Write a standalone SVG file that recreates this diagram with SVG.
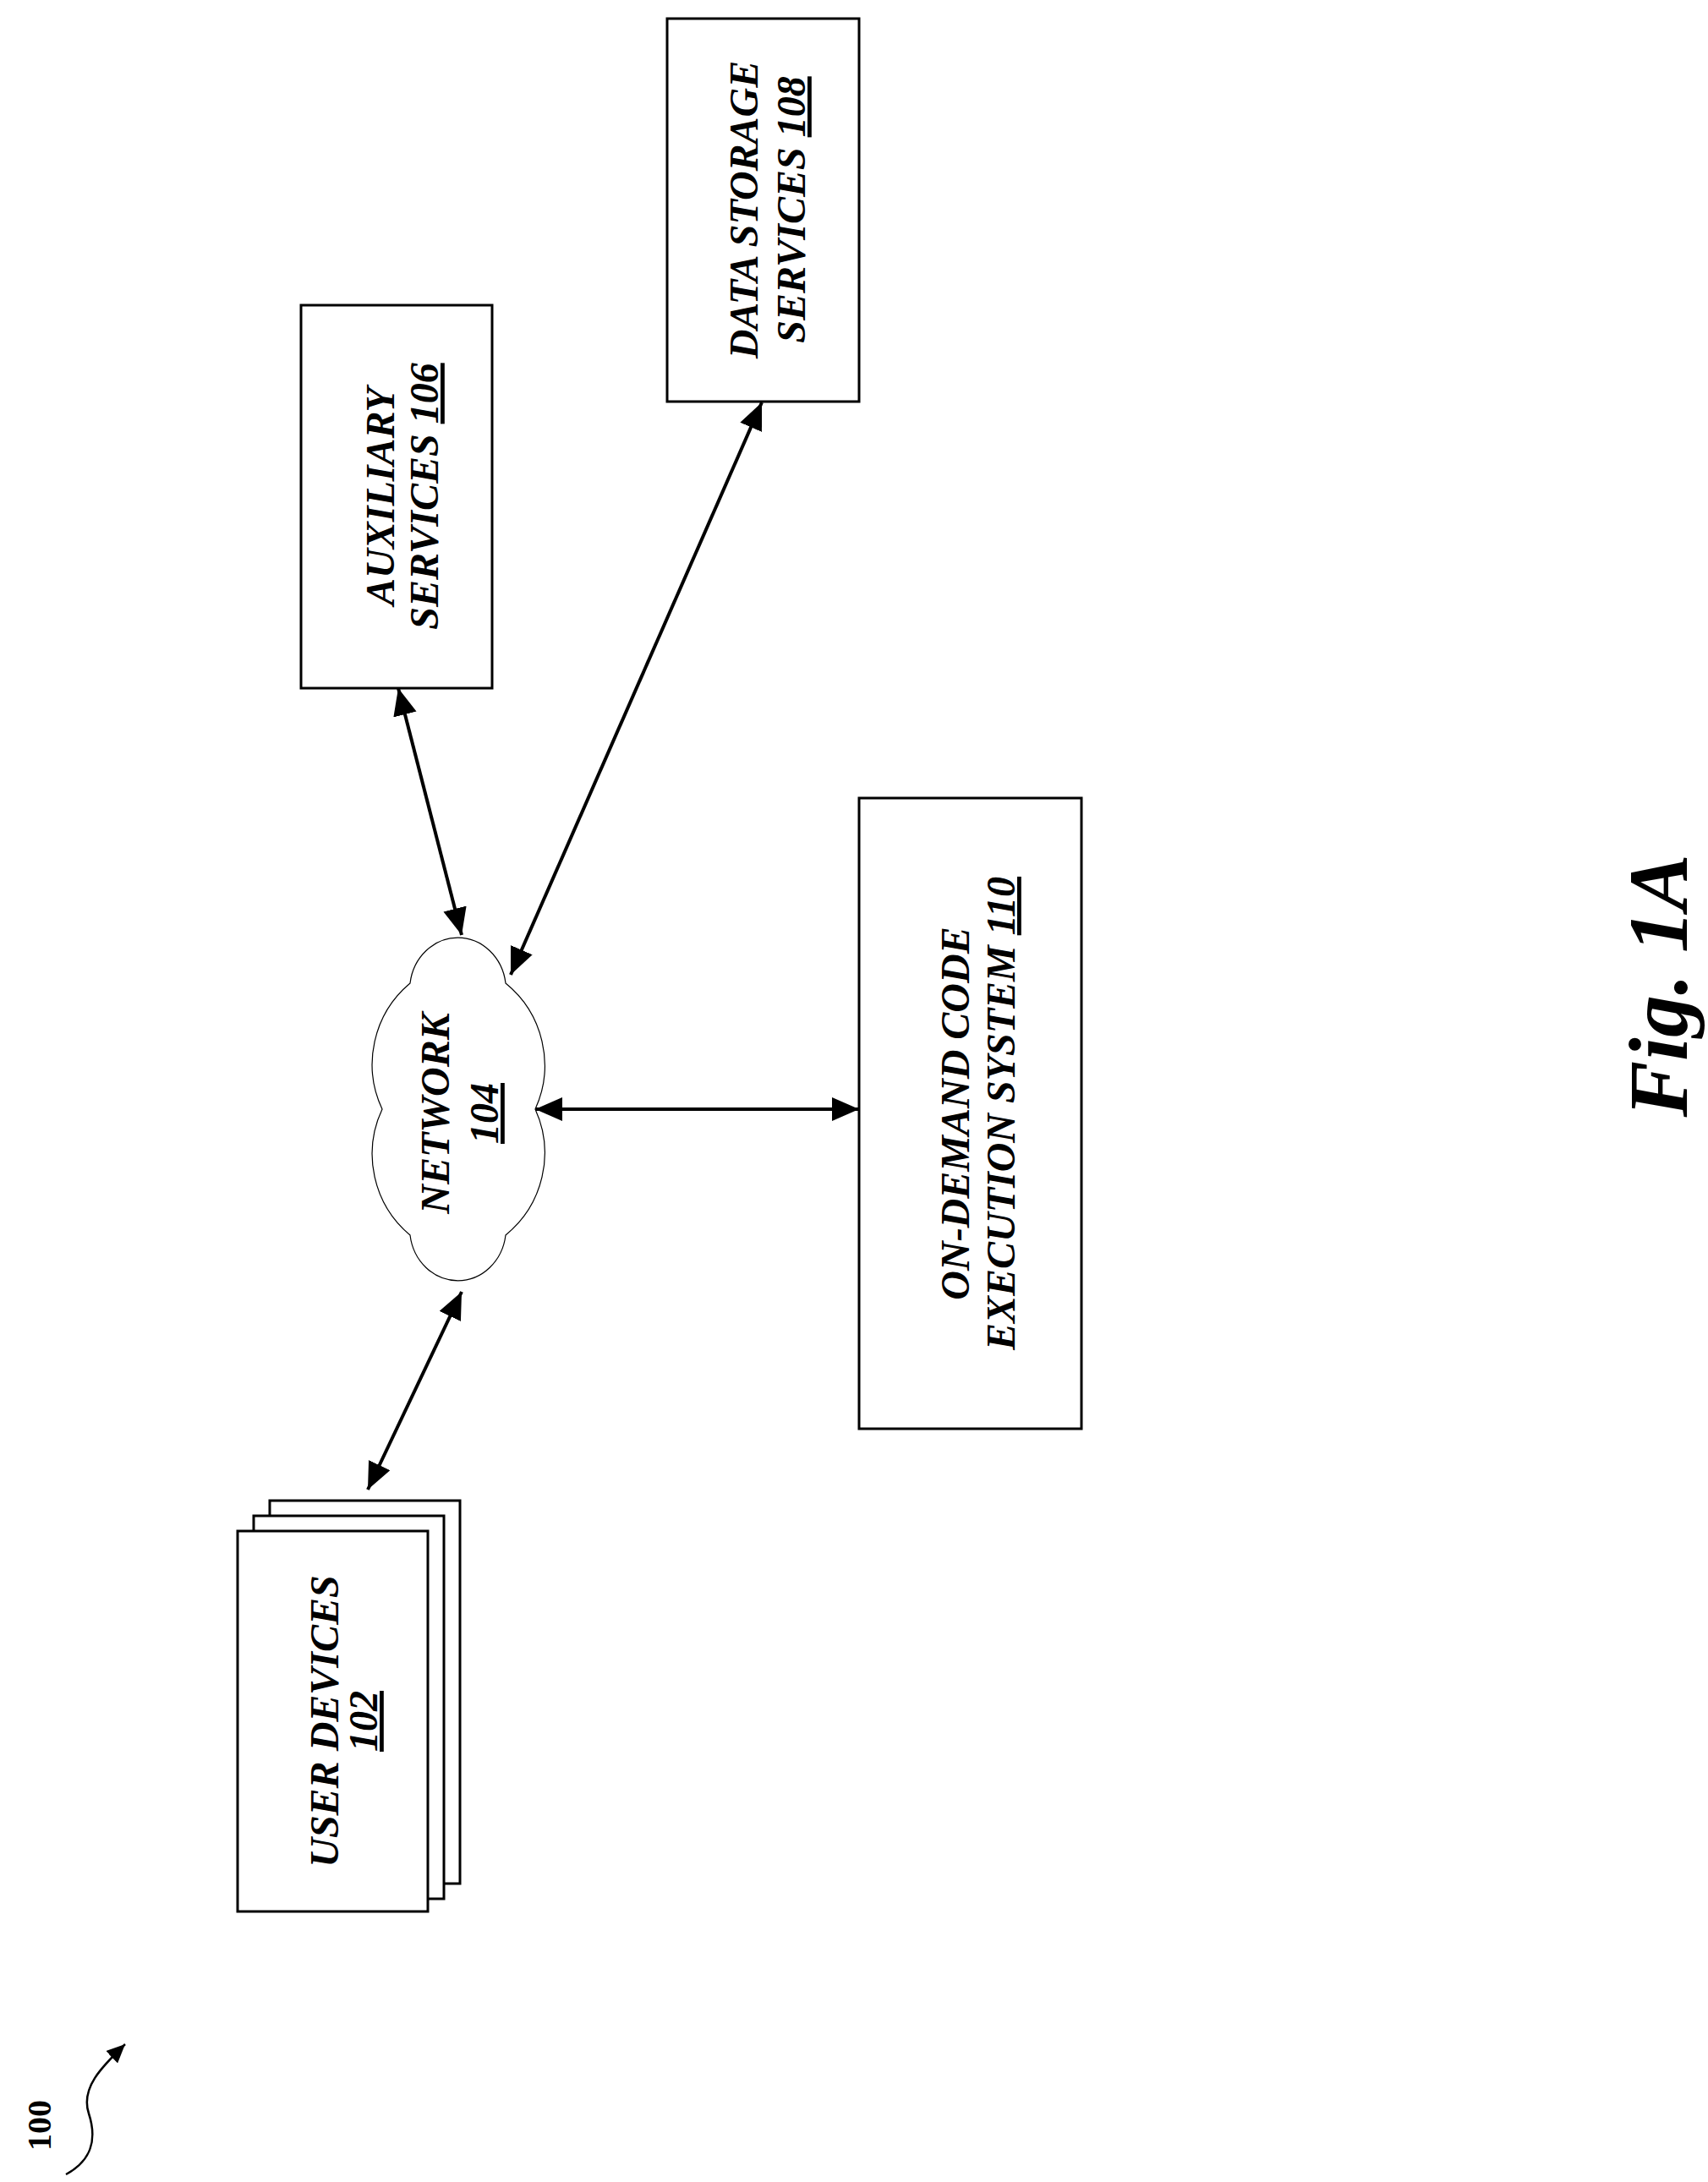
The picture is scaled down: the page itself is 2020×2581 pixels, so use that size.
<svg xmlns="http://www.w3.org/2000/svg" width="2020" height="2581" viewBox="0 0 2020 2581">
<style>
.box{fill:#fff;stroke:#000;stroke-width:3}
.t{font-family:"Liberation Serif",serif;font-weight:bold;font-style:italic;font-size:48px;text-anchor:middle;fill:#000}
.c{stroke:#000;stroke-width:4;fill:none;marker-start:url(#ah);marker-end:url(#ah)}
</style>
<defs>
<marker id="ah" markerUnits="userSpaceOnUse" markerWidth="34" markerHeight="28" refX="32" refY="14" orient="auto-start-reverse">
<path d="M0,0 L32,14 L0,28 Z" fill="#000"/>
</marker>
<marker id="sm" markerUnits="userSpaceOnUse" markerWidth="24" markerHeight="20" refX="22" refY="10" orient="auto">
<path d="M0,0 L22,10 L0,20 Z" fill="#000"/>
</marker>
</defs>
<rect width="2020" height="2581" fill="#fff"/>
<g id="connectors">
<line class="c" x1="435" y1="1762" x2="546" y2="1528"/>
<line class="c" x1="471" y1="814" x2="546" y2="1106"/>
<line class="c" x1="901" y1="476" x2="604" y2="1153"/>
<line class="c" x1="633" y1="1312" x2="1016" y2="1312"/>
</g>
<g id="user-devices">
<rect class="box" x="319" y="1775" width="225" height="453"/>
<rect class="box" x="300" y="1793" width="225" height="453"/>
<rect class="box" x="281" y="1811" width="225" height="450"/>
<text class="t" transform="translate(400,2036) rotate(-90)">USER DEVICES</text>
<text class="t" transform="translate(446,2036) rotate(-90)" text-decoration="underline">102</text>
</g>
<g id="network">
<path d="M485,1163 A57,62 0 0 1 598,1163 A125,125 0 0 1 633,1312 A125,125 0 0 1 598,1461 A57,62 0 0 1 485,1461 A125,125 0 0 1 452,1312 A125,125 0 0 1 485,1163 Z" fill="#fff" stroke="#000" stroke-width="1.2"/>
<text class="t" transform="translate(531,1317) rotate(-90)">NETWORK</text>
<text class="t" transform="translate(589,1317) rotate(-90)" text-decoration="underline">104</text>
</g>
<g id="auxiliary-services">
<rect class="box" x="356" y="361" width="226" height="453"/>
<text class="t" transform="translate(466,587) rotate(-90)">AUXILIARY</text>
<text class="t" transform="translate(518,587) rotate(-90)">SERVICES <tspan text-decoration="underline">106</tspan></text>
</g>
<g id="data-storage-services">
<rect class="box" x="789" y="22" width="227" height="453"/>
<text class="t" transform="translate(896,248) rotate(-90)">DATA STORAGE</text>
<text class="t" transform="translate(952,248) rotate(-90)">SERVICES <tspan text-decoration="underline">108</tspan></text>
</g>
<g id="on-demand-code-execution-system">
<rect class="box" x="1016" y="944" width="263" height="746"/>
<text class="t" transform="translate(1146,1317) rotate(-90)">ON-DEMAND CODE</text>
<text class="t" transform="translate(1200,1317) rotate(-90)">EXECUTION SYSTEM <tspan text-decoration="underline">110</tspan></text>
</g>
<g id="figure-label">
<text transform="translate(1995,1166) rotate(-90)" style="font-family:'Liberation Serif',serif;font-weight:bold;font-style:italic;font-size:100px;text-anchor:middle">Fig. 1A</text>
<text transform="translate(60,2514) rotate(-90)" style="font-family:'Liberation Serif',serif;font-weight:bold;font-size:40px;text-anchor:middle">100</text>
<path d="M78,2572 C100,2560 118,2540 105,2500 C95,2470 120,2445 148,2418" fill="none" stroke="#000" stroke-width="2.5" marker-end="url(#sm)"/>
</g>
</svg>
